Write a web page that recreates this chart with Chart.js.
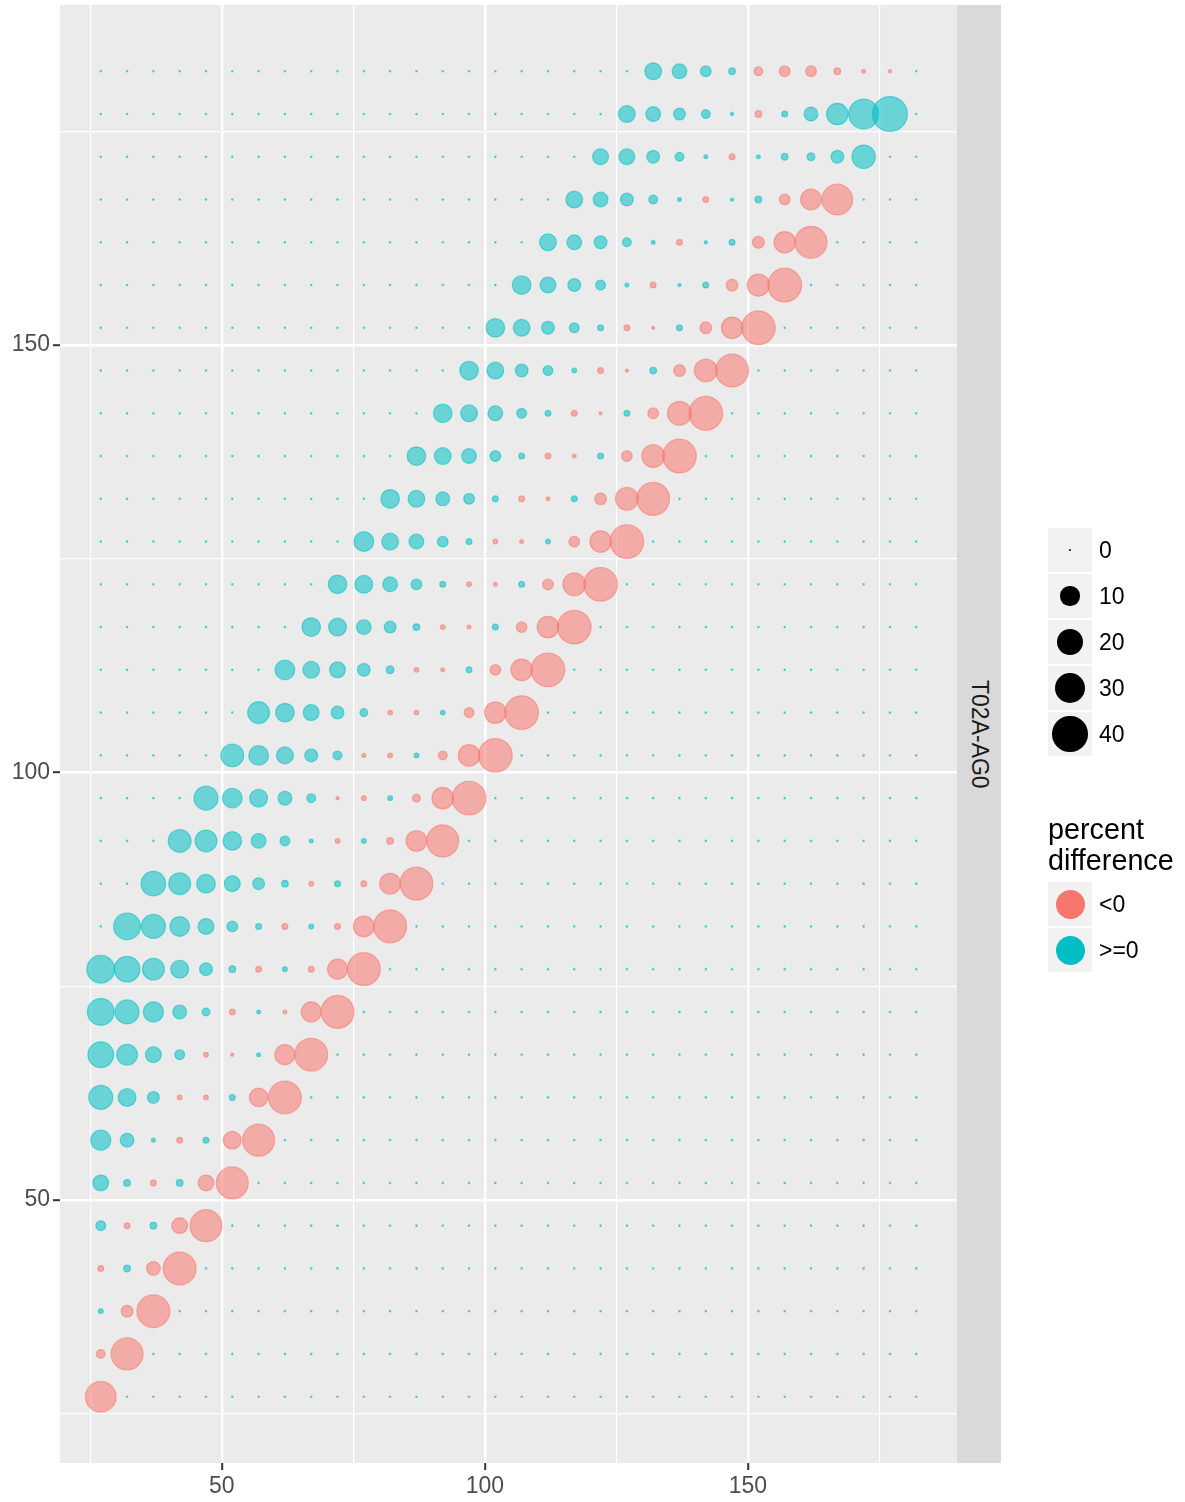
<!DOCTYPE html>
<html>
<head>
<meta charset="utf-8">
<script src="https://cdn.jsdelivr.net/npm/chart.js@4.4.1/dist/chart.umd.min.js"></script>
<style>
  body { margin: 0; background: #fff; font-family: "Liberation Sans", Arial, sans-serif; }
  #wrap { position: relative; width: 1185px; height: 1502px; }
  #chart { position: absolute; left: 0; top: 0; }
  #strip {
    position: absolute; left: 957px; top: 5px; width: 44px; height: 1458px;
    background: #D9D9D9; display: flex; align-items: center; justify-content: center;
  }
  #strip span { writing-mode: vertical-rl; font-size: 23px; color: #1A1A1A; }
  .key { position: absolute; left: 1048px; width: 44px; height: 44px; background: #F2F2F2; }
  .dot { position: absolute; border-radius: 50%; }
  .lab { position: absolute; left: 1099px; font-size: 23px; color: #000; line-height: 44px; height: 44px; }
  #title { position: absolute; left: 1048px; top: 814px; font-size: 28.75px; line-height: 31px; color: #000; }
</style>
</head>
<body>
<div id="wrap">
  <canvas id="chart" width="1185" height="1502"></canvas>
  <div id="strip"><span>T02A-AG0</span></div>
  <div id="legend"></div>
</div>
<script>
// grid levels (same on both axes)
var xLevels = [27, 32, 37, 42, 47, 52, 57, 62, 67, 72, 77, 82, 87, 92, 97, 102,
               107, 112, 117, 122, 127, 132, 137, 142, 147, 152, 157, 162, 167, 172, 177, 182];
var yLevels = [27, 32, 37, 42, 47, 52, 57, 62, 67, 72, 77, 82, 87, 92, 97, 102,
               107, 112, 117, 122, 127, 132, 137, 142, 147, 152, 157, 162, 167, 172, 177, 182];

// first x-level index of the non-zero band in each row; outside the band the value is 0
var bandStart = [0, 0, 0, 0, 0, 0, 0, 0, 0, 0, 0, 1, 2, 3, 4, 5,
                 6, 7, 8, 9, 10, 11, 12, 13, 14, 15, 16, 17, 18, 19, 20, 21];

// percent difference along the band, one array per y level
var row27  = [-32];
var row32  = [-2.0, -35];
var row37  = [0.4, -4.0, -37];
var row42  = [-0.7, 1.0, -5.7, -37];
var row47  = [2.6, -0.7, 1.0, -7.7, -35];
var row52  = [7.7, 1.0, -0.7, 1.0, -7.7, -35];
var row57  = [13, 5.7, 0.2, -0.7, 0.7, -10, -35];
var row62  = [19, 10, 4.0, -0.4, -0.4, 0.7, -11, -37];
var row67  = [22, 14, 7.7, 2.6, -0.4, -0.1, 0.2, -13, -37];
var row72  = [24, 19, 13, 5.7, 1.5, -0.7, 0.2, -0.2, -13, -37];
var row77  = [26, 22, 15.5, 10, 4.8, 1.0, -0.7, 0.4, -0.7, -13, -37];
var row82  = [24, 19, 12.5, 7.7, 3.2, 0.7, -0.7, 0.4, -0.7, -14, -37];
var row87  = [20, 15.5, 11, 7.7, 4.0, 1.0, -0.4, 0.7, -0.7, -14, -37];
var row92  = [17, 15.5, 11, 6.6, 2.6, 0.2, -0.4, 0.4, -1.0, -14, -35];
var row97  = [19, 12.5, 10, 5.7, 2.0, -0.1, -0.4, 0.4, -1.5, -15, -39];
var row102 = [17, 12.5, 8.8, 4.8, 2.0, -0.2, -0.4, 0.4, -2.0, -15, -39];
var row107 = [15.5, 11, 7.7, 4.8, 1.5, -0.4, -0.4, 0.4, -2.6, -15, -39];
var row112 = [12.5, 8.8, 7.7, 4.8, 1.5, -0.4, -0.2, 0.7, -3.2, -15, -39];
var row117 = [11, 10, 6.6, 4.0, 1.0, -0.4, -0.2, 0.7, -3.2, -15, -39];
var row122 = [11, 10, 6.6, 3.2, 0.7, -0.4, -0.2, 0.7, -3.2, -17, -39];
var row127 = [12.5, 8.8, 6.6, 3.2, 0.7, -0.4, -0.2, 0.4, -3.2, -15, -39];
var row132 = [11, 8.8, 5.7, 3.2, 0.7, -0.7, -0.2, 0.7, -4.0, -17, -37];
var row137 = [11, 8.8, 6.6, 3.2, 0.7, -0.7, -0.2, 0.7, -3.2, -17, -39];
var row142 = [11, 8.8, 6.6, 2.6, 0.7, -0.7, -0.1, 0.7, -3.2, -19, -39];
var row147 = [11, 8.8, 4.8, 2.6, 0.4, -0.7, -0.1, 1.0, -4.0, -17, -37];
var row152 = [11, 8.8, 4.8, 2.6, 0.7, -0.7, -0.1, 0.7, -4.0, -15, -39];
var row157 = [11, 7.7, 4.8, 2.6, 0.2, -0.7, 0.1, 0.7, -4.0, -16, -39];
var row162 = [8.8, 6.6, 4.8, 2.0, 0.2, -0.7, 0.1, 0.7, -4.0, -15, -35];
var row167 = [8.8, 6.6, 4.8, 2.0, 0.2, -0.7, 0.1, 1.0, -3.2, -14, -32];
var row172 = [7.7, 7.7, 4.8, 2.0, 0.2, -0.7, 0.2, 1.0, 1.5, 4.8, 18];
var row177 = [8.8, 6.6, 4.0, 2.0, 0.1, -1.0, 0.7, 5.7, 15, 30, 42];
var row182 = [8.8, 6.6, 3.2, 1.0, -2.0, -3.2, -3.2, -1.0, -0.2, -0.1, 0];

var bandRows = [row27, row32, row37, row42, row47, row52, row57, row62, row67, row72, row77,
                row82, row87, row92, row97, row102, row107, row112, row117, row122, row127,
                row132, row137, row142, row147, row152, row157, row162, row167, row172, row177, row182];

var xTicks = [25, 50, 75, 100, 125, 150, 175];
var yTicks = [25, 50, 75, 100, 125, 150, 175];
var sizeBreaks = [0, 10, 20, 30, 40];
var colorLabels = ['<0', '>=0'];

var PINK = '#F8766D', TEAL = '#00BFC4';
var PINK_A = 'rgba(248,118,109,0.55)', TEAL_A = 'rgba(0,191,196,0.55)';
var BW = 1.2;

function diam(v) {
    return 2.7 + 5.16 * Math.sqrt(Math.abs(v));
}

var points = [];
for (let i = 0; i < yLevels.length; i++) {
    for (let j = 0; j < xLevels.length; j++) {
        var k = j - bandStart[i];
        var v = (k >= 0 && k < bandRows[i].length) ? bandRows[i][k] : 0;
        points.push({x: xLevels[j], y: yLevels[i], v: v});
    }
}

var panelBg = {
    id: 'panelBg',
    beforeDraw: function(chart) {
        var a = chart.chartArea, ctx = chart.ctx;
        ctx.save();
        ctx.fillStyle = '#EBEBEB';
        ctx.fillRect(a.left, a.top, a.right - a.left, a.bottom - a.top);
        ctx.restore();
    }
};

function isMajor(ctx) {
    return ctx.tick && ctx.tick.value % 50 === 0;
}

function axis(ticks, extra) {
    var s = {
        type: 'linear',
        min: 19.25,
        max: 189.75,
        afterBuildTicks: function(scale) {
            scale.ticks = ticks.map(function(t) { return {value: t}; });
        },
        border: {display: false},
        grid: {
            color: '#FFFFFF',
            lineWidth: function(ctx) { return isMajor(ctx) ? 2.4 : 1.2; },
            tickColor: function(ctx) { return isMajor(ctx) ? '#333333' : 'rgba(0,0,0,0)'; },
            tickWidth: 2,
            tickLength: 7
        },
        ticks: {
            color: '#4D4D4D',
            font: {family: '"Liberation Sans", Arial, sans-serif', size: 23},
            maxRotation: 0,
            autoSkip: false,
            callback: function(v) { return v % 50 === 0 ? String(v) : ''; }
        }
    };
    return Object.assign(s, extra);
}

new Chart(document.getElementById('chart'), {
    type: 'scatter',
    data: {
        datasets: [{
            data: points,
            clip: false,
            pointRadius: function(ctx) {
                var r = diam(ctx.raw.v) / 2 - BW / 2;
                return Math.max(r, 0.6);
            },
            pointBackgroundColor: function(ctx) { return ctx.raw.v < 0 ? PINK_A : TEAL_A; },
            pointBorderColor: function(ctx) { return ctx.raw.v < 0 ? PINK_A : TEAL_A; },
            pointBorderWidth: BW
        }]
    },
    options: {
        responsive: false,
        animation: false,
        events: [],
        layout: {autoPadding: false, padding: {left: 0, right: 228, top: 5, bottom: 0}},
        plugins: {legend: {display: false}, tooltip: {enabled: false}},
        scales: {
            x: axis(xTicks, {
                position: 'bottom',
                afterFit: function(scale) {
                    scale.height = 39;
                    scale.paddingLeft = 0;
                    scale.paddingRight = 0;
                }
            }),
            y: axis(yTicks, {
                position: 'left',
                afterFit: function(scale) {
                    scale.width = 60;
                    scale.paddingTop = 0;
                    scale.paddingBottom = 0;
                }
            })
        }
    },
    plugins: [panelBg]
});

// legend (size keys, then colour keys)
var legend = document.getElementById('legend');
var html = '';
sizeBreaks.forEach(function(b, i) {
    var top = 528 + i * 46;
    var d = diam(b);
    html += '<div class="key" style="top:' + top + 'px">' +
        '<div class="dot" style="background:#000;width:' + d + 'px;height:' + d + 'px;left:' +
        (22 - d / 2) + 'px;top:' + (22 - d / 2) + 'px"></div></div>' +
        '<div class="lab" style="top:' + top + 'px">' + b + '</div>';
});
html += '<div id="title">percent<br>difference</div>';
colorLabels.forEach(function(lbl, i) {
    var top = 882 + i * 46;
    var col = i === 0 ? PINK : TEAL;
    var d = 29;
    html += '<div class="key" style="top:' + top + 'px">' +
        '<div class="dot" style="background:' + col + ';width:' + d + 'px;height:' + d + 'px;left:' +
        (22 - d / 2) + 'px;top:' + (22 - d / 2) + 'px"></div></div>' +
        '<div class="lab" style="top:' + top + 'px">' + lbl.replace('<', '&lt;').replace('>', '&gt;') + '</div>';
});
legend.innerHTML = html;
</script>
</body>
</html>
